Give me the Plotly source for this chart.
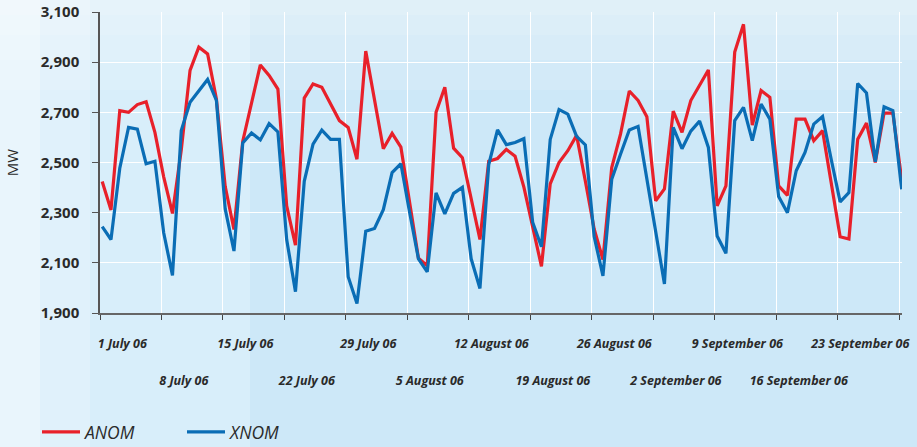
import pandas as pd
import plotly.graph_objects as go

# Daily dates, 1 July 2006 - 30 September 2006
dates = pd.date_range("2006-07-01", "2006-09-30", freq="D")

anom = [2424, 2311, 2707, 2700, 2731, 2742, 2620, 2443, 2297, 2550,
        2867, 2960, 2933, 2753, 2405, 2233, 2585, 2735, 2889, 2847,
        2793, 2327, 2170, 2757, 2813, 2800, 2730, 2667, 2640, 2513,
        2944, 2747, 2555, 2616, 2561, 2340, 2118, 2088, 2700, 2800,
        2557, 2519, 2353, 2193, 2505, 2516, 2552, 2525, 2402, 2250,
        2086, 2415, 2500, 2547, 2608, 2425, 2235, 2113, 2480, 2613,
        2785, 2747, 2682, 2347, 2395, 2705, 2620, 2747, 2805, 2869,
        2327, 2407, 2940, 3051, 2649, 2787, 2760, 2407, 2369, 2673,
        2673, 2587, 2627, 2410, 2204, 2195, 2593, 2657, 2500, 2697,
        2697, 2433]

xnom = [2244, 2193, 2477, 2640, 2633, 2495, 2505, 2220, 2050, 2627,
        2740, 2787, 2831, 2748, 2315, 2147, 2578, 2618, 2590, 2655,
        2622, 2193, 1985, 2425, 2573, 2629, 2592, 2592, 2045, 1938,
        2226, 2237, 2312, 2460, 2495, 2300, 2116, 2064, 2379, 2295,
        2377, 2401, 2116, 1998, 2492, 2630, 2571, 2580, 2595, 2262,
        2164, 2592, 2711, 2693, 2604, 2570, 2205, 2048, 2433, 2533,
        2630, 2644, 2435, 2225, 2016, 2640, 2555, 2625, 2665, 2560,
        2207, 2138, 2667, 2720, 2587, 2733, 2673, 2364, 2300, 2467,
        2540, 2653, 2683, 2510, 2343, 2380, 2815, 2777, 2503, 2722,
        2707, 2393]

row1_dates = ["2006-07-01", "2006-07-15", "2006-07-29", "2006-08-12",
              "2006-08-26", "2006-09-09", "2006-09-23"]
row1_text = ["1 July 06", "15 July 06", "29 July 06", "12 August 06",
             "26 August 06", "9 September 06", "23 September 06"]
row2_dates = ["2006-07-08", "2006-07-22", "2006-08-05", "2006-08-19",
              "2006-09-02", "2006-09-16"]
row2_text = ["8 July 06", "22 July 06", "5 August 06", "19 August 06",
             "2 September 06", "16 September 06"]

y_ticks = [1900, 2100, 2300, 2500, 2700, 2900, 3100]

RED = "#e8202a"
BLUE = "#0a6db5"
TXT = "#2a2a2a"
FONT = "Open Sans"

start = pd.Timestamp("2006-07-01")
x_range = [start - pd.Timedelta(hours=6), pd.Timestamp("2006-09-30") + pd.Timedelta(hours=1)]
week_ticks = [start - pd.Timedelta(hours=6) + pd.Timedelta(days=7 * k) for k in range(14)]
label_shift = pd.Timedelta(hours=55)

fig = go.Figure()
fig.add_trace(go.Scatter(x=dates, y=anom, mode="lines", name="ANOM",
                         line=dict(color=RED, width=3.2)))
fig.add_trace(go.Scatter(x=dates, y=xnom, mode="lines", name="XNOM", xaxis="x2",
                         line=dict(color=BLUE, width=3.2)))

# plot-area geometry (pixels)
L, R, T, B = 100, 902, 12, 313
W = R - L
H = B - T
def px(x):
    return (x - L) / W
def py(y):
    return (B - y) / H

shapes = [
    dict(type="rect", xref="paper", yref="paper", x0=px(0), x1=px(40), y0=py(447), y1=py(0),
         fillcolor="#e9f5fc", line=dict(width=0), layer="below"),
    dict(type="rect", xref="paper", yref="paper", x0=px(40), x1=px(90), y0=py(447), y1=py(0),
         fillcolor="#e0f1fb", line=dict(width=0), layer="below"),
    dict(type="rect", xref="paper", yref="paper", x0=px(90), x1=px(250), y0=py(447), y1=py(0),
         fillcolor="#d8eefa", line=dict(width=0), layer="below"),
]
for k, (y0, y1) in enumerate([(0, 15), (0, 35), (0, 60), (0, 90)]):
    shapes.append(dict(type="rect", xref="paper", yref="paper", x0=px(0), x1=px(917),
                       y0=py(y1), y1=py(y0), fillcolor="rgba(255,255,255,0.12)",
                       line=dict(width=0), layer="below"))

tickfont_x = dict(family=FONT, size=12.5, color=TXT, weight="bold", style="italic")

fig.update_layout(
    width=917, height=447,
    margin=dict(l=L, r=917 - R, t=T, b=447 - B, autoexpand=False),
    paper_bgcolor="#cde8f8",
    plot_bgcolor="rgba(0,0,0,0)",
    shapes=shapes,
    showlegend=True,
    legend=dict(orientation="h", xref="container", yref="container",
                x=37 / 917, xanchor="left", y=1 - 432 / 447, yanchor="middle",
                font=dict(family=FONT, size=17.5, color=TXT, style="italic"),
                bgcolor="rgba(0,0,0,0)", entrywidth=92, entrywidthmode="pixels",
                itemwidth=38),
    xaxis=dict(type="date", range=x_range, showgrid=False, zeroline=False, automargin=False,
               showline=True, linecolor="#666666", linewidth=1.5,
               tickmode="array",
               tickvals=[pd.Timestamp(d) + label_shift for d in row1_dates],
               ticktext=row1_text, ticks="", ticklabelstandoff=18,
               tickfont=tickfont_x,
               minor=dict(tickmode="array", tickvals=week_ticks, ticks="outside", ticklen=5,
                          tickcolor="#444444", tickwidth=1.2,
                          showgrid=True, gridcolor="white", gridwidth=1.2)),
    xaxis2=dict(type="date", matches="x", overlaying="x", anchor="y", side="bottom",
                showgrid=False, zeroline=False, showline=False, automargin=False,
                tickmode="array",
                tickvals=[pd.Timestamp(d) + label_shift for d in row2_dates],
                ticktext=row2_text, ticks="", ticklabelstandoff=58,
                tickfont=tickfont_x),
    yaxis=dict(range=[1900, 3100], tickmode="array", tickvals=y_ticks, automargin=False,
               tickformat=",", showgrid=True, gridcolor="white", gridwidth=1.2,
               zeroline=False, showline=True, linecolor="#555555", linewidth=1.5,
               ticks="outside", ticklen=6, tickcolor="#555555", ticklabelstandoff=10,
               tickfont=dict(family=FONT, size=15, color=TXT, weight="bold"),
               title=dict(text="MW", font=dict(family=FONT, size=15, color=TXT), standoff=18)),
)

fig.write_html("out.html", config={"displayModeBar": False},
               post_script="document.body.style.margin='0';")
